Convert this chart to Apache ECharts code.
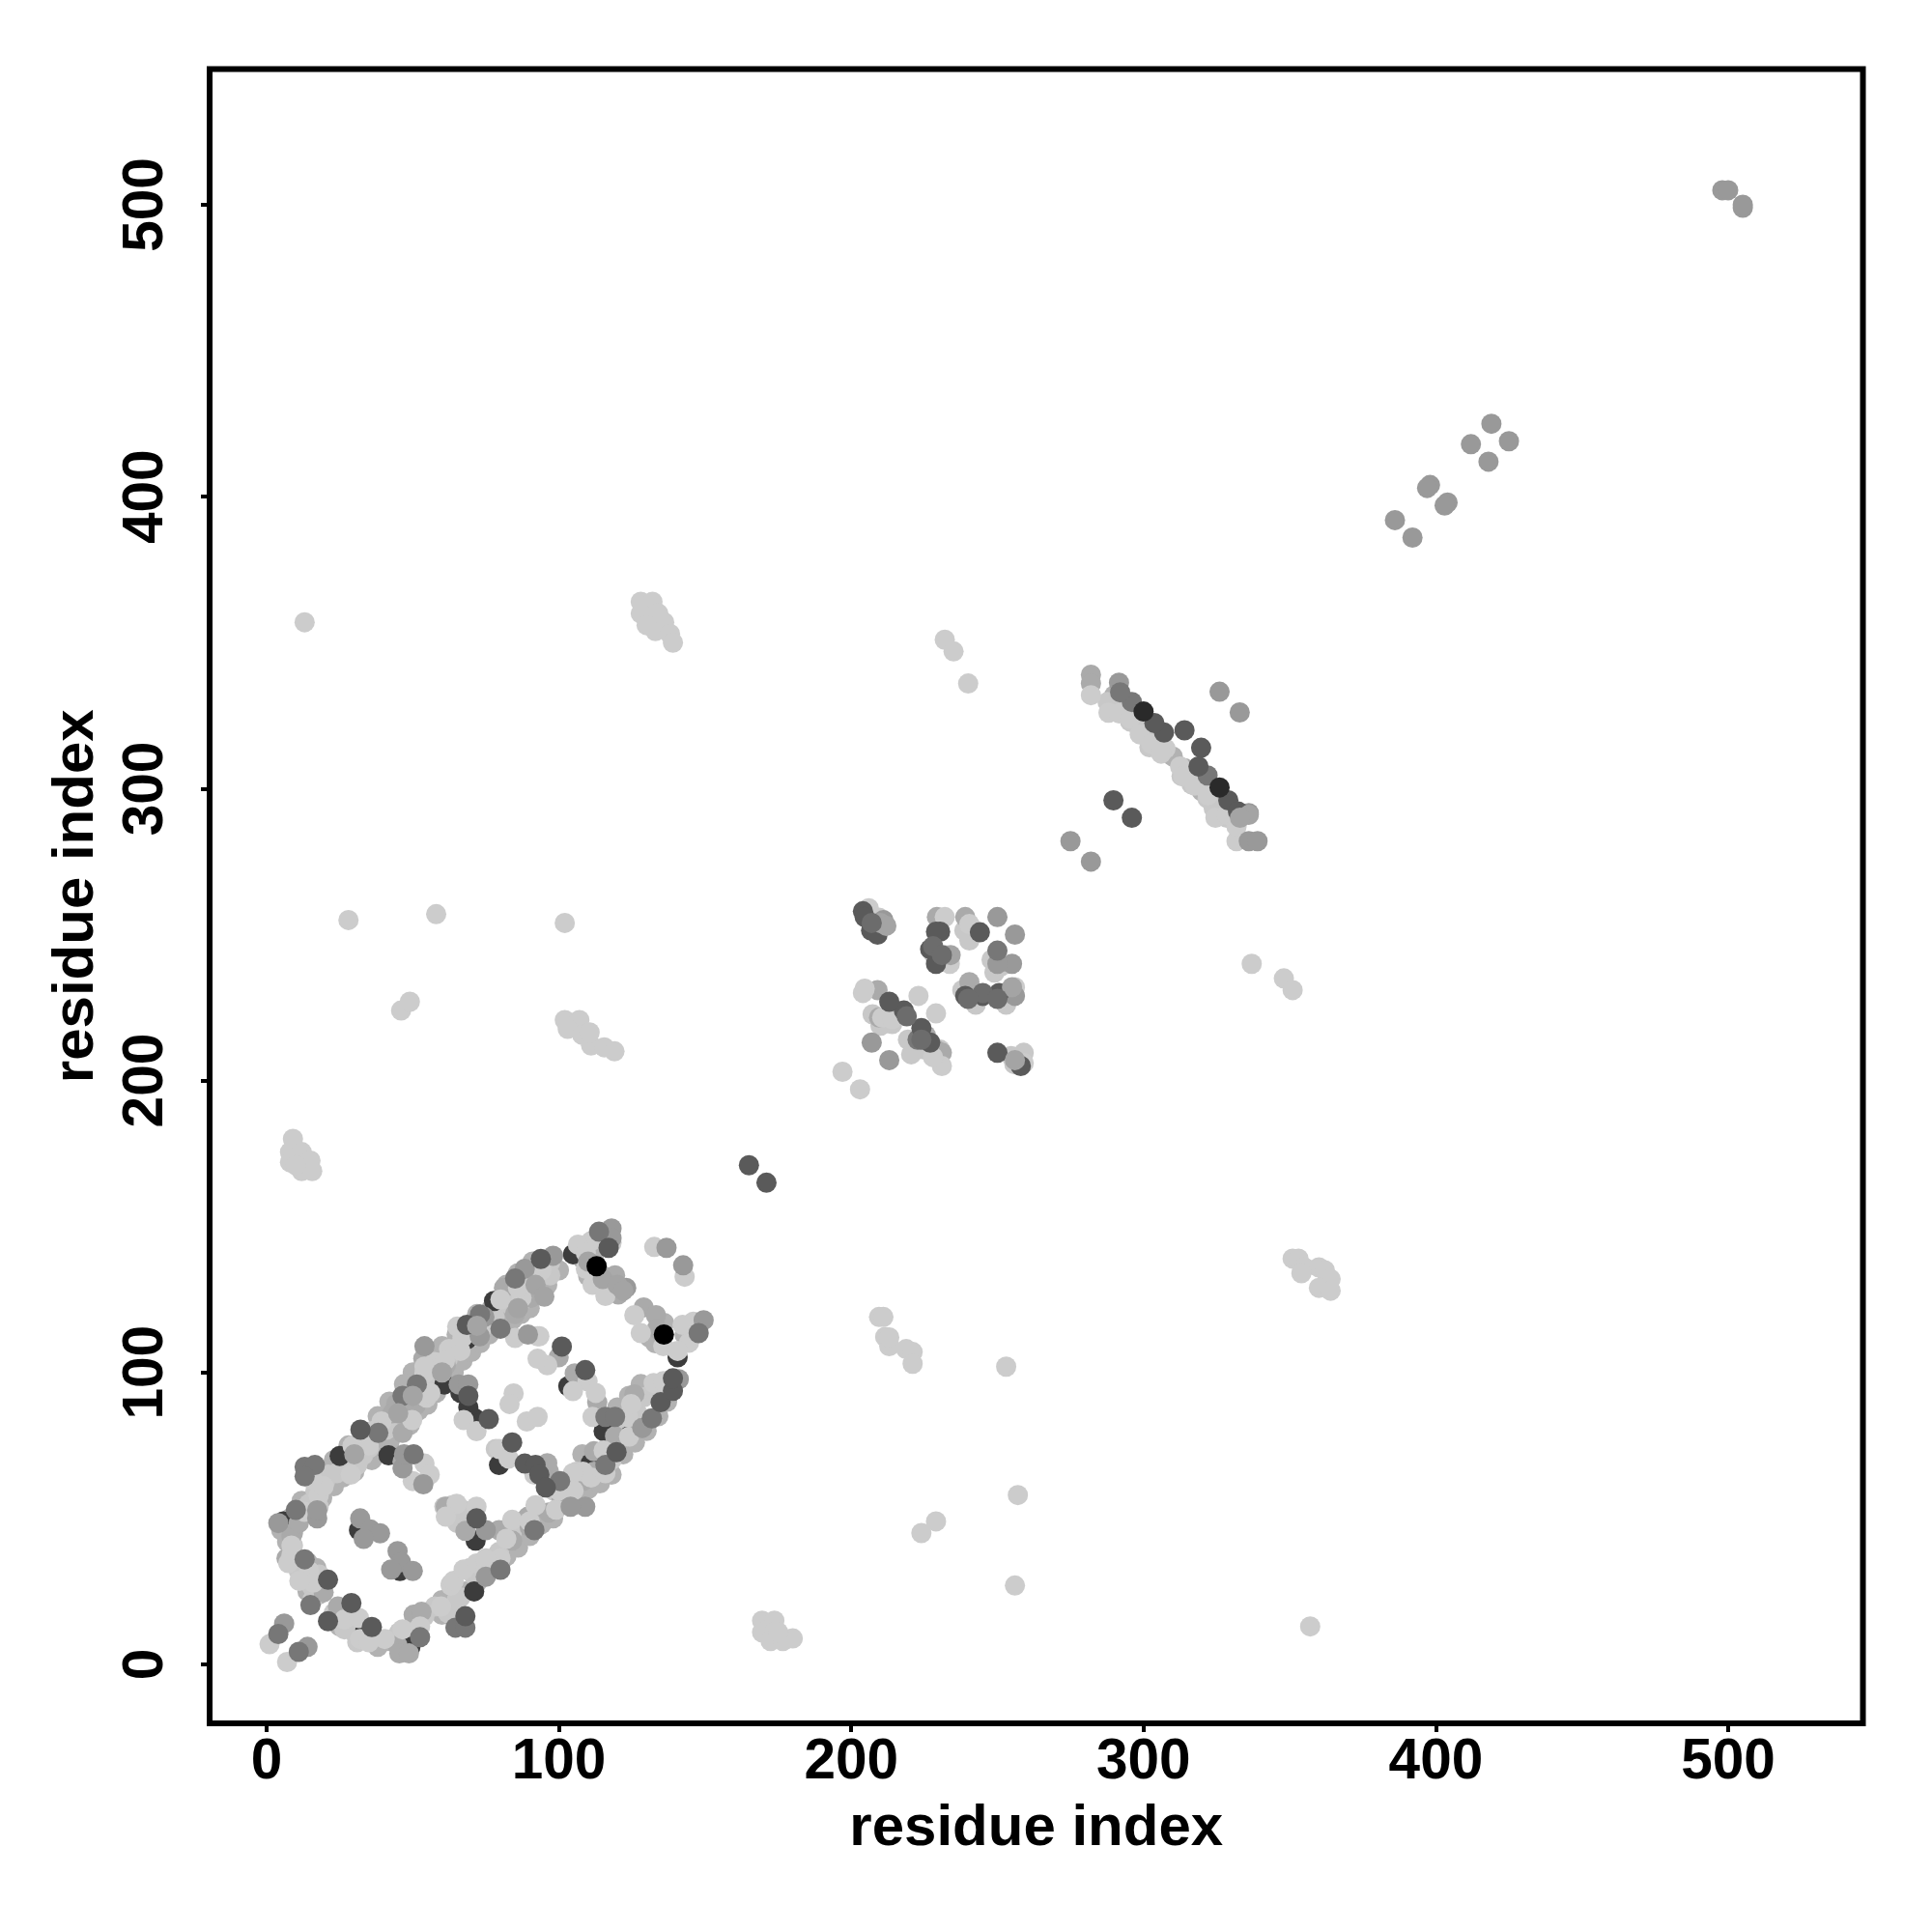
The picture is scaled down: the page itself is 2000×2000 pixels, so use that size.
<!DOCTYPE html>
<html><head><meta charset="utf-8">
<script src="https://cdn.jsdelivr.net/npm/echarts@6/dist/echarts.min.js"></script>
<style>html,body{margin:0;background:#fff}#c{width:2000px;height:2000px}</style></head>
<body><div id="c"></div>
<script>
const tickValues=[0,100,200,300,400,500];
const xTitle="residue index", yTitle="residue index";
const underDark=[[5.7,49],[33.8,12],[31.6,46],[45.6,32],[71.5,42.4],[71,25],[104.8,140.5],[103.2,95.3],[71.2,84.3],[140.6,105.2],[41.7,71.6],[25,71.4],[68.5,111.3],[110.9,68.9],[49.2,6],[123.9,78.2],[115.3,79.9],[77.8,124.5],[60.8,95.9],[66.3,93],[69,88],[79.5,68.3]];
const midGray=[[282,339],[282,336],[8.5,44],[19.5,24.7],[24.4,19.8],[44.8,6.5],[45.4,3.8],[48.7,3.8],[50.3,17],[53,18],[61.3,54],[68,45.7],[79.5,46],[84,42.4],[89.4,50.6],[53.6,104.7],[51,88.7],[44.3,89.2],[43,86],[46.5,79.3],[46.5,69.4],[61.3,102.5],[81.2,129],[85,120],[90.5,125.6],[72.9,112.4],[99.9,105.2],[105.4,99.7],[113.1,89.8],[119.2,78.2],[128.5,81],[125.8,92.5],[112,73],[96.6,66],[96,68.9],[108.2,62.8],[112,66],[129,122.3],[133.2,119.6],[133.5,115],[114.8,133.3],[119.2,133.3],[120.3,126.7],[314,307],[209,231],[209.5,221.6],[225.5,215.5],[240.4,233.7],[229.3,256],[239,256],[229,210.5],[231,209.5],[90,47],[96.5,52],[100.8,57.4],[105,61.6],[9,45],[11,48.4],[6.8,36.3]];
const light=[[1,6.9],[7,0.8],[8.5,37.4],[8.5,40.7],[12.9,52.3],[17.8,57.8],[19.5,61],[15.6,63.3],[14.5,32],[16,28],[11.2,28.6],[7.4,34.7],[26.6,15.4],[31.6,15.9],[32,8.7],[35,7.6],[40.4,8.7],[46.5,12],[52.5,13],[59.7,19.8],[63,27],[64,28.6],[67.4,32.5],[71.8,34.6],[75,33],[80,36.3],[71.8,54],[65,55],[61.3,50.6],[84,49.5],[92,54.5],[75,36],[82,43],[90,49],[99,53],[105,59.5],[111,64],[118,70],[124,78],
[54,68.8],[55.8,65],[50,62.8],[54.7,91.4],[49.8,83.7],[39.3,83.2],[36,79.9],[34.9,74.9],[29.4,74.9],[28.8,65],[54,99.7],[57.5,103.6],[62.4,108],[66.3,107.4],[65.2,115.7],[73.4,115],[85,111.8],[87.2,125.6],[93.3,112.4],[54,102],[56,93],[61,104],[67,112],[80,125],[86,129],[94,135],
[67.4,83.7],[84.5,92.8],[83.1,89.2],[89,83.2],[92.7,84.8],[79.5,73.8],[82.8,70.5],[71.8,79.9],
[110.9,144.9],[106.5,143.8],[109.2,141],[118,144.4],[109.2,135.5],[111.5,130],[115.9,126.2],[132.6,143],[143,132.8],[125.8,119.6],[128,113.5],[135.7,109],[146,117.4],[144.5,110.2],[140.6,107.4],[142.3,116.3],[96,102.5],[92.7,112.4],[92.7,104.7],[109.8,97],[112.6,93],[104.8,93.6],[111.5,84.8],[123.6,84.8],[124.7,89.2],[132.4,96.4],[135.7,97],[115.3,73.3],[115.9,65.5],[108.2,66],[104.8,65.5],[91.6,65],[99.9,59.5],[104.8,59.5],
[13,357],[28,255],[58,257],[102,254],[46,224],[49,227],[128,364],[132,364],[128,360],[134,360],[136,357],[133,354],[138,353],[139,350],[130,356],[351,139],[353,139],[355,136],[360,136],[362,135],[364,132],[354,134],[360,129],[364,128],[232,351],[235,347],[240,336],[337,240],[348,235],[351,231],
[102,220.7],[107,220.7],[103,217.7],[108,215.6],[111,212],[115.5,211.4],[119,210],[110.5,216.5],[9,180],[8,175.5],[12,175.5],[15,172.6],[8,172],[12,169],[15.6,169],[10,171],[169.5,15],[173.7,15],[169.5,11],[173.7,11],[172.4,8],[176.6,8],[180,8.9],[175,11],[209.5,119],[211,119],[211.6,112.2],[213,109],[218.8,108],[221,107],[221,103],[213,112],[253,102],[257,58],[224,45],[229,49],[256,27],[357,13],
[282,332],[288,326],[291.6,325.8],[295.4,324],[298.7,318.6],[302.6,315.3],[307.5,313.7],[306,312],[312.5,307.6],[313.6,304.3],[317.5,301],[322,297.7],[324.6,290],[328.5,291],[331.8,282],[331.8,287],
[197,203],[203,197],[223,229],[229,223],[232,256],[204.6,231.5],[204,230],[231,205],[233.7,240],[230,242],[240.4,253.6],[256,232],[259,206],[209.5,255.8],[206,259],[210.6,221.6],[214,221],[228,208]];
const gray=[[6,14],[14,6],[4,48.4],[17.3,50],[17.3,52.8],[32,50],[35.5,46.2],[38.8,44.9],[33.2,43],[44.8,38.8],[46,35],[42.6,32.5],[50,32],[75,30],[75,46],[53.6,61.7],[46.5,67.2],[47,72],[54,109],[72.9,112.4],[74.5,119],[88.3,135.5],[89.4,113],[65.7,95.9],[69,95.9],[118,149.3],[118,146],[136.8,142.7],[142.5,136.7],[123,129],[149.5,117.9],[141,97.7],[128.5,81],[98,140],[109,54],[104,54],
[498,505],[500,505],[505,499],[505,500],[386,392],[392,386],[398,404],[397,403],[404,398],[403,397],[412,418],[419,425],[418,412],[425,419],[291.6,336.3],[326,333.2],[332.9,326.1],[275,282],[282,275],[336,282],[339,282],[336,291.6],[250,256],[256,250],[207,213],[213,207],[211,255],[255,240],[256,229],[250,240]];
const darkGray=[[13,36],[10,52.9],[13,67.7],[16.5,68.3],[13,64.4],[15,20.3],[4,10.4],[11,4.3],[52.5,9.3],[64.6,12.6],[68,12.6],[80,32.4],[91.6,46],[51.4,95.9],[46.5,92],[38.2,79.3],[50.3,72],[73,119.9],[80,115],[85,132.2],[113.7,148.2],[147.8,113.5],[115.9,84.8],[119.2,84.8],[131.8,84.3],[115.9,68.3],[100.4,62.8],[296,329.7],[292,333],[321.9,304.5],[250,244.5],[222.7,214]];
const dark=[[21,29],[29,21],[21,14.8],[36,12.8],[68,16.5],[71.8,50],[32.1,80.4],[68.5,116.3],[76,84],[84,76],[88.3,68.8],[92,68.3],[93.3,65],[93.8,138.9],[117,142.7],[101,108.9],[109,100.8],[134.8,89.8],[139,93.7],[139,98],[119.7,72.7],[95.5,60.6],[69,92],[165,171],[171,165],
[289.7,296],[296,290],[329,296],[332.3,292.2],[307,319.2],[303.7,322.5],[314,320],[319.7,314],[318.8,307.6],[204,258],[204.6,256],[206.8,251.4],[209,250],[230.4,251],[229,251],[244,250.8],[227,245],[229,240],[218,224],[213,227],[224,218],[227,213],[245,229],[250.6,230],[250,209.5],[258,205],[239,229]];
const lightTop=[[28,69.4],[33,72.7],[41,80.4],[48.7,89],[53,94.8],[62,104.7],[66,109],[74,115.7],[83,123.4],[88,129],[91.6,135.5],[81.7,127.8],[89.4,130],[97,133.3],[97,137.7],[87.2,124.5],[35,74],[44,84],[58,98],[70,112],[78,119],[84,127],
[66.3,23],[70.7,30.8],[75,36.3],[79.5,38.5],[84,45.7],[88.3,49.5],[106,66],[113.7,68],[122.5,81.5],[126.9,86],[129,91.5],[133.5,94.8],[103.7,62.8],[98.2,59.5],[117,75],[120,80],
[14.5,55],[17.8,54],[16.7,59.5],[20,62.8],[21,65],[24,65.5],[27.7,67],[31,68.3],[33,71.6],[13,29.7],[15.6,26.4],[15.6,22],[18,30.8],[11,32],[9,40.7],
[23,17.6],[26.6,12],[30,11],[31,7.6],[45.4,11],[47.6,9.8],[50.9,12],[54,16.5],[57.5,19.8],[62,17.6],[65,22],[63,27.5],[69.6,33],[74,35],[79.5,37.4],[60.8,54],[63.5,54.5],[67.4,52.8],[65.2,48.4],[68,47.3],[78.4,73.8],[80.6,72.7],
[207.3,254.7],[228,243.6],[232,243],[238.7,251.4],[241.5,251.4],[240.4,248],[248,241.4],[251.4,239.2],[249,237],[238,231],[242.6,226],[253,226],[207.3,222.7],[210,218.8],[214,219.4],[219.4,214],[220.5,209],[225,210.6],[230.4,210.6],[254.7,208.4],[259,209.5],[255.8,205.6],
[287.7,329.7],[290,328.6],[293,327.5],[295.4,323],[298.7,319.7],[302,317.5],[302,314.2],[313,304.3],[316.4,301.5],[321.9,296.6],[324,293.3],[328.5,290],[331.8,289]];
const grayTop=[[30,72],[45,86],[50,92],[60,100],[72,116],[92,130],[95,126],[110,138],[115,132],[120,130],[122,128],[336,291],[333,290],[234,243],[255,232],[256,207],[210,254],[212,253],[86,122]];
const midTop=[[19,57],[23,61],[26,64],[30,66],[36,70],[39,75],[42,76],[46,80],[49,82],[52,87],[55,89],[58,93],[60,97],[64,100],[67,104],[70,107],[73,110],[76,113],[80,118],[84,118],[87,120],[90,122],[93,127],[96,130],[100,135],[77,122],[82,130],[86,134],[91,138],[72,120],[65,113],[60,109],[55,105],[50,100],[47,96],[42,90],[38,85],[33,78],[28,75],[23,70],
[60,22],[64,20],[68,25],[72,28],[78,33],[82,37],[86,40],[90,44],[94,48],[98,50],[102,55],[106,57],[110,60],[114,62],[118,65],[122,72],[126,76],[130,80],[134,85],[137,90],[116,80],[120,88],[124,92],[128,96],[108,72],
[5,46],[8,50],[12,56],[7,42],[10,35],[14,35],[17,33],[19,28],[18,24],[14,25],[25,13],[28,15],[34,10],[38,6],[42,8],[44,9],[52,16],[60,17],
[112,140],[108,139],[114,145],[110,133],[117,129],[136,117],[131,112],[133,110],[143,113],[145,114],[290,332],[294,330],[298,326],[305,317],[310,311],[320,299],[325,294],[330,293]];
const darkTop=[[228,246],[231,243],[245,230],[250,228],[240,228],[219,222],[224,214],[207,254]];
const nearBlack=[[300,326.4],[326,300.4]];
const black=[[112.9,136.4],[135.9,113]];
const layers=[[midTop,'#b2b2b2'],[lightTop,'#c8c8c8'],[underDark,'#3c3c3c'],[midGray,'#aaaaaa'],[light,'#cccccc'],[gray,'#999999'],[darkGray,'#777777'],[dark,'#5a5a5a'],[grayTop,'#a4a4a4'],[darkTop,'#6c6c6c'],[nearBlack,'#2a2a2a'],[black,'#000000']];
const font='"Liberation Sans"';
const chart=echarts.init(document.getElementById('c'),null,{renderer:'canvas'});
const axis=(name,min,max,gap,rot,lm)=>({type:'value',min,max,splitLine:{show:false},axisLine:{show:false,onZero:false},
  name,nameLocation:'middle',nameGap:gap,nameTextStyle:{color:'#000',fontFamily:font,fontWeight:'bold',fontSize:60},
  axisTick:{show:true,length:9,lineStyle:{color:'#000',width:4},customValues:tickValues},
  axisLabel:{color:'#000',fontFamily:font,fontWeight:'bold',fontSize:58.5,rotate:rot,margin:lm,customValues:tickValues}});
chart.setOption({animation:false,backgroundColor:'#fff',
 grid:{left:217,right:71.5,top:71.5,bottom:216,show:true,borderColor:'#000',borderWidth:6,backgroundColor:'transparent'},
 xAxis:axis(xTitle,-19.5,546.1,79,0,11),
 yAxis:axis(yTitle,-20.2,546.5,108,90,36),
 series:layers.map(([d,c])=>({type:'scatter',data:d,symbol:'circle',symbolSize:21,itemStyle:{color:c,opacity:1},silent:true}))
});
</script></body></html>
